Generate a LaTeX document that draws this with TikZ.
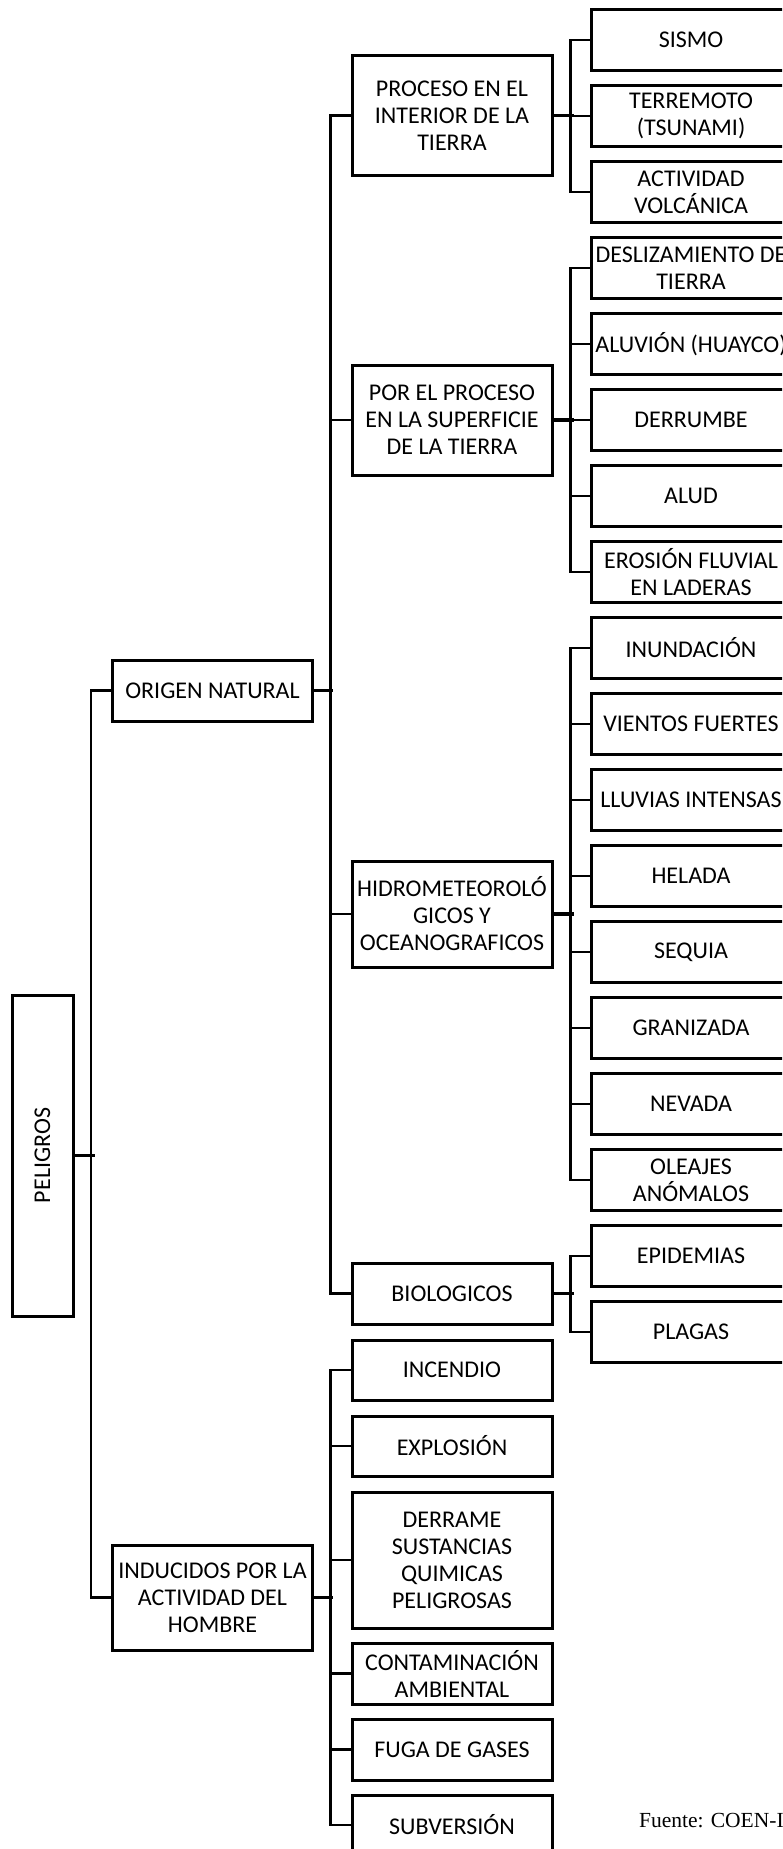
\documentclass[tikz,border=0pt]{standalone}
\usepackage{fontspec}
\setmainfont{Carlito}
\newfontfamily\fuentefont{Liberation Serif}

\begin{document}
\begin{tikzpicture}[x=1pt,y=-1pt,
  caja/.style={draw, line width=3pt, minimum width=200pt, minimum height=61pt, inner sep=0pt, align=center, font=\fontsize{24pt}{27pt}\selectfont},
  rama/.style={line width=2.6pt},
  tallo/.style={line width=3.6pt}]
\useasboundingbox (0,0) rectangle (782,1849);
\clip (0,0) rectangle (782,1849);
% nivel 0 y 1
\node[caja, minimum width=61pt, minimum height=321pt] (peligros) at (42.5,1155.5) {\rotatebox{90}{PELIGROS}};
\node[caja] (origen) at (212.5,690.5) {ORIGEN NATURAL};
\node[caja, minimum height=105pt] (inducidos) at (212.5,1597.5) {INDUCIDOS POR LA\\ACTIVIDAD DEL\\HOMBRE};
% nivel 2
\node[caja, minimum height=119pt] (proceso) at (452,115.5) {PROCESO EN EL\\INTERIOR DE LA\\TIERRA};
\node[caja, minimum height=110pt] (superficie) at (452,420) {POR EL PROCESO\\EN LA SUPERFICIE\\DE LA TIERRA};
\node[caja, minimum height=106pt] (hidro) at (452,914) {HIDROMETEOROLÓ\\GICOS Y\\OCEANOGRAFICOS};
\node[caja] (biologicos) at (452,1293.5) {BIOLOGICOS};
\node[caja, minimum height=60pt] (incendio) at (452,1370) {INCENDIO};
\node[caja, minimum height=60pt] (explosion) at (452,1446) {EXPLOSIÓN};
\node[caja, minimum height=136pt] (derrame) at (452,1560) {DERRAME\\SUSTANCIAS\\QUIMICAS\\PELIGROSAS};
\node[caja] (contaminacion) at (452,1673.5) {CONTAMINACIÓN\\AMBIENTAL};
\node[caja] (fuga) at (452,1749.5) {FUGA DE GASES};
\node[caja, minimum height=60pt] (subversion) at (452,1825) {SUBVERSIÓN};
% nivel 3
\node[caja] (sismo) at (691,40) {SISMO};
\node[caja] (terremoto) at (691,116) {TERREMOTO\\(TSUNAMI)};
\node[caja] (actividad) at (691,192) {ACTIVIDAD\\VOLCÁNICA};
\node[caja] (deslizamiento) at (691,268) {DESLIZAMIENTO DE\\TIERRA};
\node[caja] (aluvion) at (691,344) {ALUVIÓN (HUAYCO)};
\node[caja] (derrumbe) at (691,420) {DERRUMBE};
\node[caja] (alud) at (691,496) {ALUD};
\node[caja] (erosion) at (691,572) {EROSIÓN FLUVIAL\\EN LADERAS};
\node[caja] (inundacion) at (691,648) {INUNDACIÓN};
\node[caja] (vientos) at (691,724) {VIENTOS FUERTES};
\node[caja] (lluvias) at (691,800) {LLUVIAS INTENSAS};
\node[caja] (helada) at (691,876) {HELADA};
\node[caja] (sequia) at (691,952) {SEQUIA};
\node[caja] (granizada) at (691,1028) {GRANIZADA};
\node[caja] (nevada) at (691,1104) {NEVADA};
\node[caja] (oleajes) at (691,1180) {OLEAJES\\ANÓMALOS};
\node[caja] (epidemias) at (691,1256) {EPIDEMIAS};
\node[caja] (plagas) at (691,1332) {PLAGAS};
\node[font=\fuentefont\fontsize{21.5pt}{25pt}\selectfont, anchor=base west, inner sep=0pt] (fuente) at (639,1827) {Fuente: COEN-INDECI};
% conectores
\draw[tallo] (peligros.east) -- ++(20,0);
\draw[rama] (origen.west) -- ++(-20,0) |- (inducidos.west);
\draw[tallo] (origen.east) -- ++(19,0);
\draw[rama] (proceso.west) -- ++(-20,0) |- (biologicos.west);
\draw[rama] (superficie.west) -- ++(-20,0);
\draw[rama] (hidro.west) -- ++(-20,0);
\draw[tallo] (inducidos.east) -- ++(19,0);
\draw[rama] (incendio.west) -- ++(-20,0) |- (subversion.west);
\draw[rama] (explosion.west) -- ++(-20,0);
\draw[rama] (derrame.west) -- ++(-20,0);
\draw[rama] (contaminacion.west) -- ++(-20,0);
\draw[rama] (fuga.west) -- ++(-20,0);
\draw[tallo] (proceso.east) -- ++(20,0);
\draw[rama] (sismo.west) -- ++(-19,0) |- (actividad.west);
\draw[rama] (terremoto.west) -- ++(-19,0);
\draw[tallo] (superficie.east) -- ++(20,0);
\draw[rama] (deslizamiento.west) -- ++(-19,0) |- (erosion.west);
\draw[rama] (aluvion.west) -- ++(-19,0);
\draw[rama] (derrumbe.west) -- ++(-19,0);
\draw[rama] (alud.west) -- ++(-19,0);
\draw[tallo] (hidro.east) -- ++(20,0);
\draw[rama] (inundacion.west) -- ++(-19,0) |- (oleajes.west);
\draw[rama] (vientos.west) -- ++(-19,0);
\draw[rama] (lluvias.west) -- ++(-19,0);
\draw[rama] (helada.west) -- ++(-19,0);
\draw[rama] (sequia.west) -- ++(-19,0);
\draw[rama] (granizada.west) -- ++(-19,0);
\draw[rama] (nevada.west) -- ++(-19,0);
\draw[tallo] (biologicos.east) -- ++(20,0);
\draw[rama] (epidemias.west) -- ++(-19,0) |- (plagas.west);
\end{tikzpicture}
\end{document}
